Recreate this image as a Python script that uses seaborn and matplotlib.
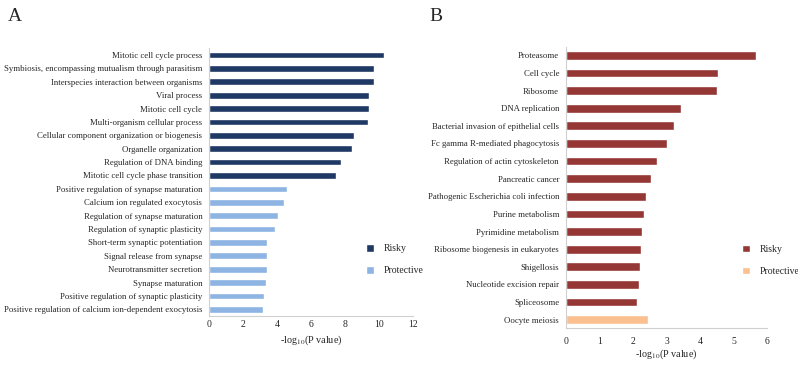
import matplotlib
matplotlib.use("Agg")
import matplotlib.pyplot as plt
import seaborn as sns
import pandas as pd

# Panel A: GO terms
go_terms = [
    "Mitotic cell cycle process",
    "Symbiosis, encompassing mutualism through parasitism",
    "Interspecies interaction between organisms",
    "Viral process",
    "Mitotic cell cycle",
    "Multi-organism cellular process",
    "Cellular component organization or biogenesis",
    "Organelle organization",
    "Regulation of DNA binding",
    "Mitotic cell cycle phase transition",
    "Positive regulation of synapse maturation",
    "Calcium ion regulated exocytosis",
    "Regulation of synapse maturation",
    "Regulation of synaptic plasticity",
    "Short-term synaptic potentiation",
    "Signal release from synapse",
    "Neurotransmitter secretion",
    "Synapse maturation",
    "Positive regulation of synaptic plasticity",
    "Positive regulation of calcium ion-dependent exocytosis",
]
go_values = [10.29, 9.71, 9.67, 9.41, 9.39, 9.33, 8.49, 8.41, 7.77, 7.45,
             4.55, 4.39, 4.04, 3.84, 3.41, 3.41, 3.41, 3.33, 3.22, 3.16]
go_groups = ["Risky"] * 10 + ["Protective"] * 10

# Panel B: KEGG pathways
kegg_terms = [
    "Proteasome",
    "Cell cycle",
    "Ribosome",
    "DNA replication",
    "Bacterial invasion of epithelial cells",
    "Fc gamma R-mediated phagocytosis",
    "Regulation of actin cytoskeleton",
    "Pancreatic cancer",
    "Pathogenic Escherichia coli infection",
    "Purine metabolism",
    "Pyrimidine metabolism",
    "Ribosome biogenesis in eukaryotes",
    "Shigellosis",
    "Nucleotide excision repair",
    "Spliceosome",
    "Oocyte meiosis",
]
kegg_values = [5.67, 4.54, 4.49, 3.42, 3.23, 3.00, 2.71, 2.54, 2.39,
               2.33, 2.27, 2.22, 2.20, 2.17, 2.11, 2.45]
kegg_groups = ["Risky"] * 15 + ["Protective"]

PAL_A = {"Risky": "#1f3864", "Protective": "#8db4e2"}
PAL_B = {"Risky": "#953735", "Protective": "#fac090"}

sns.set_style("white")
plt.rcParams["font.family"] = ["Liberation Serif", "DejaVu Serif"]
plt.rcParams["mathtext.fontset"] = "stix"

fig = plt.figure(figsize=(7.98, 3.68), dpi=100)
ax_a = fig.add_axes([0.2623, 0.1413, 0.2556, 0.7274])
ax_b = fig.add_axes([0.7093, 0.1076, 0.2523, 0.7658])


def draw_panel(ax, terms, values, groups, pal, xmax, step, legend_pos, tick_pad, label_pad):
    df = pd.DataFrame({"term": terms, "value": values, "group": groups})
    sns.barplot(data=df, y="term", x="value", hue="group", palette=pal,
                orient="h", dodge=False, width=0.5, ax=ax, saturation=1)
    ax.set_xlim(0, xmax)
    ax.set_xticks(range(0, xmax + 1, step))
    ax.tick_params(axis="y", labelsize=6.3, length=0, pad=5)
    ax.tick_params(axis="x", labelsize=7, length=0, pad=tick_pad)
    ax.set_ylabel("")
    ax.set_xlabel(r"-log$_{10}$(P value)", fontsize=7.3, labelpad=label_pad)
    for side in ["top", "right"]:
        ax.spines[side].set_visible(False)
    for side in ["left", "bottom"]:
        ax.spines[side].set_color("#d0d0d0")
        ax.spines[side].set_linewidth(0.8)
    ax.legend(loc="center left", bbox_to_anchor=legend_pos, frameon=False,
              fontsize=7, handlelength=0.8, handleheight=0.8,
              labelspacing=1.3, handletextpad=1.0)


draw_panel(ax_a, go_terms, go_values, go_groups, PAL_A, 12, 2, (0.725, 0.21), 3, 3)
draw_panel(ax_b, kegg_terms, kegg_values, kegg_groups, PAL_B, 6, 1, (0.83, 0.242), 6.5, 0.5)

fig.text(0.010, 0.955, "A", fontsize=14, va="center")
fig.text(0.538, 0.955, "B", fontsize=14, va="center")

fig.savefig("out.png", dpi=100)
plt.close(fig)
